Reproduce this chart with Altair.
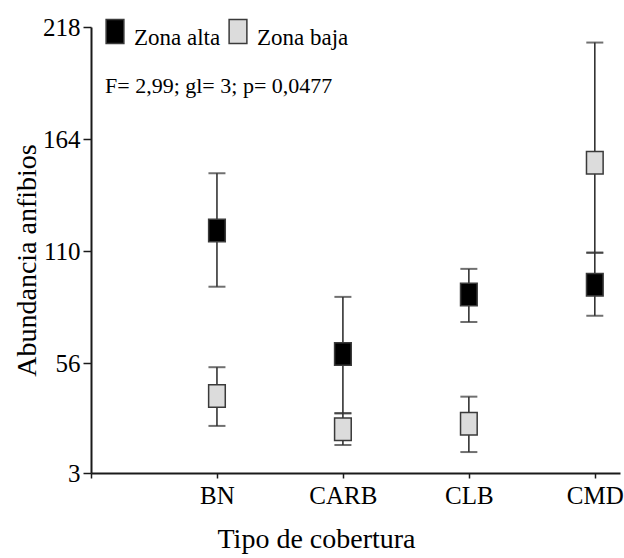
import altair as alt
import pandas as pd

# ---- data ----
categories = ["BN", "CARB", "CLB", "CMD"]
series = ["Zona alta", "Zona baja"]

alta_mean = [119.9, 60.4, 89.0, 93.8]
alta_low = [92.8, 31.8, 75.8, 78.8]
alta_high = [147.5, 87.9, 101.4, 109.2]

baja_mean = [40.1, 24.1, 26.7, 152.6]
baja_low = [25.7, 16.5, 13.1, 109.2]
baja_high = [54.0, 31.8, 39.8, 210.5]

y_ticks = [3, 56, 110, 164, 218]
annotation = "F= 2,99; gl= 3; p= 0,0477"

rows = []
for i, c in enumerate(categories):
    rows.append({"pos": i + 1, "cat": c, "zona": series[0],
                 "mean": alta_mean[i], "low": alta_low[i], "high": alta_high[i]})
    rows.append({"pos": i + 1, "cat": c, "zona": series[1],
                 "mean": baja_mean[i], "low": baja_low[i], "high": baja_high[i]})
df = pd.DataFrame(rows)

FONT = "Liberation Serif"
label_expr = "[" + ",".join(["''"] + ["'%s'" % c for c in categories]) + "][datum.value]"

x_enc = alt.X(
    "pos:Q",
    scale=alt.Scale(domain=[0, 4.2], nice=False, zero=False),
    axis=alt.Axis(
        values=[0, 1, 2, 3, 4], labelExpr=label_expr, title="Tipo de cobertura",
        tickSize=5, labelPadding=5, titleX=225, titleY=74,
        titleAlign="center", titleBaseline="alphabetic",
    ),
)
y_scale = alt.Scale(domain=[3, 218], nice=False, zero=False)
y_axis = alt.Axis(
    values=y_ticks, title="Abundancia anfibios", tickSize=8, labelPadding=3,
    titleX=-64, titleY=233, titleAlign="center", titleBaseline="middle",
)

base = alt.Chart(df)

rules = base.mark_rule(color="#333333", strokeWidth=1.6).encode(
    x=x_enc,
    y=alt.Y("low:Q", scale=y_scale, axis=y_axis),
    y2="high:Q",
)
cap_low = base.mark_tick(color="#333333", orient="horizontal", size=17, thickness=2).encode(
    x="pos:Q", y="low:Q"
)
cap_high = base.mark_tick(color="#333333", orient="horizontal", size=17, thickness=2).encode(
    x="pos:Q", y="high:Q"
)

box_shape = "M-0.74,-1L0.74,-1L0.74,1L-0.74,1Z"
legend_shape = "M-0.74,-1.55L0.74,-1.55L0.74,0.45L-0.74,0.45Z"

points = base.mark_point(
    shape=box_shape, filled=True, size=506, opacity=1,
    stroke="#3a3a3a", strokeWidth=1.5,
).encode(
    x="pos:Q",
    y="mean:Q",
    color=alt.Color(
        "zona:N",
        scale=alt.Scale(domain=series, range=["#000000", "#dcdcdc"]),
        legend=alt.Legend(
            orient="none", legendX=11, legendY=-2, direction="horizontal",
            title=None, symbolType=legend_shape, symbolSize=576,
            symbolStrokeColor="#3a3a3a", symbolStrokeWidth=1.5,
            symbolOpacity=1, labelOffset=6, columnPadding=4, padding=0,
            labelFontSize=23, labelFont=FONT, labelColor="#000000",
        ),
    ),
)

note = alt.Chart(alt.Data(values=[{"t": annotation}])).mark_text(
    align="left", baseline="alphabetic", font=FONT, fontSize=22, color="#000000"
).encode(x=alt.value(14), y=alt.value(66), text="t:N")

chart = alt.layer(rules, cap_low, cap_high, points, note).properties(
    width=529, height=446,
    autosize=alt.AutoSizeParams(type="none"),
    padding={"left": 91, "top": 27, "right": 4, "bottom": 85},
    background="#ffffff",
).configure(
    font=FONT,
    view=alt.ViewConfig(stroke=None),
    axis=alt.AxisConfig(
        grid=False, domainColor="#1a1a1a", domainWidth=2, tickColor="#1a1a1a",
        tickWidth=1.5, labelFont=FONT, labelFontSize=25, labelColor="#000000",
        titleFont=FONT, titleFontSize=28, titleFontWeight="normal", titleColor="#000000",
    ),
    legend=alt.LegendConfig(labelFont=FONT, labelFontSize=23),
    text=alt.MarkConfig(font=FONT),
)

chart.save("out.html", embed_options={"renderer": "svg", "actions": False})
